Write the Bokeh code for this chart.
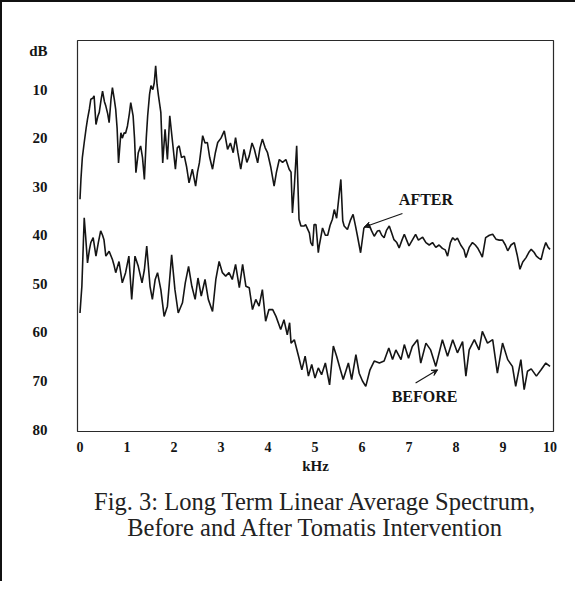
from bokeh.plotting import figure
from bokeh.models import Range1d, FixedTicker, Label, Arrow, VeeHead, Title
from bokeh.layouts import column
from bokeh.embed import file_html
from bokeh.resources import INLINE

# ---- data ----
x_ticks = [0, 1, 2, 3, 4, 5, 6, 7, 8, 9, 10]
y_ticks = [10, 20, 30, 40, 50, 60, 70, 80]

after_khz = [0.00, 0.02, 0.05, 0.09, 0.13, 0.16, 0.20, 0.23, 0.27, 0.30, 0.34, 0.38, 0.41, 0.45,
             0.48, 0.52, 0.55, 0.59, 0.62, 0.66, 0.69, 0.73, 0.76, 0.79, 0.82, 0.87, 0.90, 0.94,
             0.97, 1.01, 1.05, 1.08, 1.13, 1.16, 1.19, 1.24, 1.29, 1.33, 1.37, 1.41, 1.44, 1.48,
             1.51, 1.55, 1.58, 1.61, 1.64, 1.67, 1.72, 1.76, 1.81, 1.86, 1.91, 1.97, 2.03, 2.07,
             2.11, 2.16, 2.22, 2.27, 2.32, 2.39, 2.46, 2.50, 2.54, 2.58, 2.61, 2.66, 2.71, 2.76,
             2.82, 2.88, 2.93, 3.00, 3.07, 3.14, 3.20, 3.26, 3.31, 3.36, 3.42, 3.49, 3.55, 3.60,
             3.66, 3.71, 3.78, 3.83, 3.88, 3.94, 3.99, 4.06, 4.13, 4.18, 4.24, 4.31, 4.38, 4.45,
             4.49, 4.52, 4.56, 4.61, 4.66, 4.70, 4.77, 4.80, 4.88, 4.91, 4.95, 4.98, 5.02, 5.07,
             5.09, 5.16, 5.22, 5.27, 5.32, 5.37, 5.41, 5.46, 5.51, 5.55, 5.59, 5.62, 5.69, 5.75,
             5.81, 5.86, 5.90, 5.97, 6.04, 6.10, 6.15, 6.20, 6.26, 6.33, 6.37, 6.42, 6.47, 6.52,
             6.58, 6.63, 6.68, 6.74, 6.79, 6.85, 6.90, 6.95, 7.00, 7.07, 7.14, 7.20, 7.29, 7.36,
             7.43, 7.50, 7.57, 7.64, 7.71, 7.77, 7.82, 7.88, 7.93, 7.98, 8.03, 8.10, 8.17, 8.21,
             8.28, 8.35, 8.41, 8.46, 8.51, 8.56, 8.63, 8.71, 8.78, 8.85, 8.92, 8.99, 9.05, 9.10,
             9.17, 9.24, 9.30, 9.36, 9.42, 9.49, 9.55, 9.60, 9.66, 9.71, 9.76, 9.81, 9.86, 9.91,
             9.96, 10.00]
after_db = [32.6, 28.5, 24.0, 20.9, 18.0, 16.1, 14.0, 12.0, 11.8, 11.3, 17.2, 15.5, 14.7, 12.0,
            10.3, 12.5, 13.4, 15.0, 16.8, 12.0, 9.6, 12.0, 14.1, 18.0, 25.1, 18.9, 20.0, 18.9,
            19.0, 17.5, 15.0, 12.7, 15.4, 20.0, 27.1, 23.0, 21.6, 24.0, 28.5, 20.0, 15.4, 11.0,
            9.2, 10.0, 8.6, 5.1, 9.0, 11.3, 14.7, 25.1, 18.2, 24.4, 15.4, 20.9, 26.4, 22.0,
            21.6, 24.0, 23.7, 26.0, 29.2, 26.4, 29.9, 27.0, 25.1, 22.0, 19.5, 21.0, 20.9, 24.0,
            26.4, 23.0, 20.9, 20.0, 18.5, 22.3, 21.0, 23.0, 19.9, 23.0, 26.4, 22.3, 25.0, 23.7,
            21.0, 22.3, 25.1, 22.0, 20.2, 22.0, 23.0, 26.0, 29.9, 27.0, 24.4, 25.0, 24.4, 26.4,
            27.0, 35.4, 30.0, 21.6, 36.7, 38.1, 38.1, 37.8, 39.5, 41.5, 42.2, 37.8, 37.8, 43.6,
            42.2, 38.5, 40.0, 40.0, 38.0, 36.7, 34.7, 36.5, 32.0, 28.5, 37.0, 38.1, 38.8, 37.0,
            35.7, 38.0, 40.0, 43.6, 38.5, 38.0, 37.8, 39.0, 40.2, 39.1, 39.0, 40.0, 40.5, 39.0,
            38.1, 39.5, 40.9, 41.5, 42.6, 41.0, 39.8, 41.0, 42.2, 41.0, 39.8, 41.0, 40.4, 41.5,
            42.0, 41.5, 42.5, 42.0, 42.7, 43.0, 44.3, 41.5, 40.5, 41.0, 40.6, 42.0, 43.0, 44.6,
            42.5, 41.5, 42.0, 42.6, 43.5, 44.5, 40.5, 40.0, 39.8, 40.8, 41.0, 41.0, 42.0, 43.2,
            42.0, 41.5, 44.0, 47.0, 45.5, 44.6, 43.5, 42.9, 43.5, 44.3, 44.7, 45.0, 43.0, 41.5,
            42.5, 42.9]

before_khz = [0.00, 0.02, 0.04, 0.07, 0.09, 0.12, 0.16, 0.20, 0.23, 0.28, 0.34, 0.39, 0.44, 0.48,
              0.51, 0.55, 0.62, 0.69, 0.72, 0.76, 0.83, 0.90, 0.97, 1.04, 1.10, 1.17, 1.24, 1.32,
              1.37, 1.42, 1.49, 1.54, 1.60, 1.65, 1.72, 1.79, 1.86, 1.90, 1.95, 2.02, 2.09, 2.18,
              2.24, 2.31, 2.38, 2.45, 2.51, 2.58, 2.66, 2.73, 2.82, 2.89, 2.96, 3.03, 3.10, 3.17,
              3.24, 3.31, 3.39, 3.46, 3.53, 3.60, 3.67, 3.74, 3.81, 3.88, 3.95, 4.02, 4.10, 4.17,
              4.27, 4.34, 4.41, 4.46, 4.49, 4.56, 4.65, 4.72, 4.79, 4.86, 4.93, 5.00, 5.07, 5.14,
              5.22, 5.31, 5.39, 5.46, 5.54, 5.60, 5.71, 5.78, 5.87, 5.94, 6.01, 6.08, 6.17, 6.26,
              6.37, 6.47, 6.57, 6.65, 6.72, 6.83, 6.90, 6.99, 7.07, 7.18, 7.25, 7.36, 7.46, 7.57,
              7.71, 7.82, 7.93, 8.03, 8.14, 8.21, 8.28, 8.39, 8.49, 8.56, 8.67, 8.78, 8.88, 8.99,
              9.10, 9.20, 9.27, 9.38, 9.45, 9.52, 9.60, 9.71, 9.81, 9.91, 10.00]
before_db = [56.0, 53.2, 50.5, 42.0, 36.4, 40.2, 45.7, 43.0, 41.5, 40.5, 44.3, 41.5, 39.1, 40.0,
             40.9, 44.3, 43.3, 45.0, 46.0, 47.7, 45.4, 49.8, 47.7, 44.3, 53.2, 44.3, 46.4, 49.8,
             47.1, 42.2, 50.5, 53.2, 49.1, 47.7, 51.2, 56.7, 54.6, 50.0, 44.0, 51.2, 56.0, 53.9,
             49.8, 46.4, 50.5, 53.2, 48.8, 52.5, 49.1, 53.2, 55.7, 49.1, 45.4, 47.7, 48.4, 47.7,
             49.1, 46.0, 50.8, 46.0, 50.5, 50.8, 55.3, 53.2, 54.6, 51.2, 57.7, 55.3, 55.3, 56.7,
             59.4, 57.4, 60.5, 58.0, 62.2, 61.5, 64.9, 67.7, 64.9, 69.0, 66.6, 69.4, 67.3, 68.7,
             66.3, 70.8, 62.8, 64.9, 67.7, 69.7, 66.3, 69.7, 64.6, 68.4, 70.0, 71.1, 67.7, 65.9,
             66.3, 65.9, 63.2, 65.6, 63.6, 65.6, 62.5, 65.3, 62.9, 61.5, 66.3, 62.2, 63.6, 67.0,
             61.5, 64.9, 61.5, 64.2, 61.9, 69.0, 63.6, 61.5, 63.6, 59.8, 62.2, 61.5, 68.4, 62.2,
             65.6, 67.0, 71.1, 65.6, 71.8, 68.0, 67.5, 69.0, 67.7, 66.3, 67.0]

caption_1 = "Fig. 3: Long Term Linear Average Spectrum,"
caption_2 = "Before and After Tomatis Intervention"

SERIF = "Liberation Serif"
INK = "#151515"

p = figure(width=573, height=579, output_backend="svg", toolbar_location=None,
           x_range=Range1d(-0.053, 10.074), y_range=Range1d(80.4, -0.1),
           min_border_left=75, min_border_right=22, min_border_top=38, min_border_bottom=150)

p.background_fill_color = "white"
p.border_fill_color = "white"
p.outline_line_color = "#2a2a2a"
p.outline_line_width = 1.2
p.xgrid.visible = False
p.ygrid.visible = False

p.line(after_khz, after_db, line_color=INK, line_width=1.6)
p.line(before_khz, before_db, line_color=INK, line_width=1.6)

for ax in (p.xaxis[0], p.yaxis[0]):
    ax.axis_line_color = None
    ax.major_tick_line_color = None
    ax.minor_tick_line_color = None
    ax.major_label_text_font = SERIF
    ax.major_label_text_font_style = "bold"
    ax.major_label_text_color = INK

p.xaxis.ticker = FixedTicker(ticks=x_ticks)
p.xaxis.major_label_text_font_size = "14px"
p.xaxis.major_label_standoff = 4
p.xaxis.axis_label = "kHz"
p.xaxis.axis_label_text_font = SERIF
p.xaxis.axis_label_text_font_style = "bold"
p.xaxis.axis_label_text_font_size = "15px"
p.xaxis.axis_label_text_color = INK
p.xaxis.axis_label_standoff = 3

p.yaxis.ticker = FixedTicker(ticks=[2] + y_ticks)
p.yaxis.major_label_overrides = {2: "dB"}
p.yaxis.major_label_text_font_size = "15px"
p.yaxis.major_label_standoff = 24

# annotations
p.add_layout(Label(x=7.36, y=32.6, text="AFTER", text_font=SERIF, text_font_style="bold",
                   text_font_size="16px", text_align="center", text_baseline="middle",
                   text_color=INK))
p.add_layout(Label(x=7.33, y=73.1, text="BEFORE", text_font=SERIF, text_font_style="bold",
                   text_font_size="16px", text_align="center", text_baseline="middle",
                   text_color=INK))
p.add_layout(Arrow(x_start=6.86, y_start=35.5, x_end=6.05, y_end=38.3,
                   line_color=INK, line_width=1.1,
                   end=VeeHead(size=6, line_color=INK, fill_color=INK, line_width=1)))
p.add_layout(Arrow(x_start=7.14, y_start=70.4, x_end=7.61, y_end=67.7,
                   line_color=INK, line_width=1.1,
                   end=VeeHead(size=6, line_color=INK, fill_color=INK, line_width=1)))

# caption below the chart (two stacked titles)
p.add_layout(Title(text=caption_1, align="center", offset=-15, standoff=19,
                   vertical_align="bottom",
                   text_font=SERIF, text_font_size="24.5px", text_font_style="normal",
                   text_color="#222222"), "below")
p.add_layout(Title(text=caption_2, align="center", offset=-2, standoff=-22,
                   vertical_align="top",
                   text_font=SERIF, text_font_size="24.5px", text_font_style="normal",
                   text_color="#222222"), "below")

layout = column(p, styles={"border-left": "2px solid #111", "border-top": "2px solid #111"})

open("out.html", "w").write(file_html(layout, INLINE))
